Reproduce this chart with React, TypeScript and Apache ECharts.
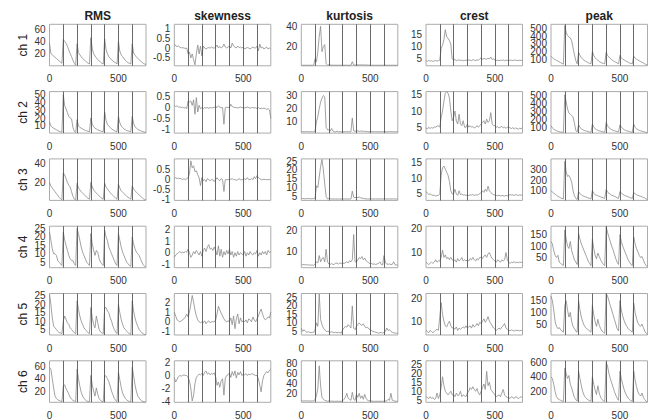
import React, { useEffect, useRef } from "react";
import * as echarts from "echarts";

const columnTitles = ["RMS", "skewness", "kurtosis", "crest", "peak"];
const channelLabels = ["ch 1", "ch 2", "ch 3", "ch 4", "ch 5", "ch 6"];
const segmentBounds = [100, 200, 300, 400, 500, 600];
const xTicks = [0, 500];
const xRange = [0, 700];

const sampleX = [
  0, 10, 20, 30, 40, 50, 60, 70, 80, 90,
  100, 110, 120, 130, 140, 150, 160, 170, 180, 190,
  200, 210, 220, 230, 240, 250, 260, 270, 280, 290,
  300, 310, 320, 330, 340, 350, 360, 370, 380, 390,
  400, 410, 420, 430, 440, 450, 460, 470, 480, 490,
  500, 510, 520, 530, 540, 550, 560, 570, 580, 590,
  600, 610, 620, 630, 640, 650, 660, 670, 680, 690,
  700,
];

// ---- RMS ----
const rmsCh1 = [
  37, 20, 18, 16, 14, 12, 10, 8, 6, 4,
  43, 40, 37, 32, 26, 20, 15, 9, 4, 1,
  36, 22, 18, 15, 12, 10, 8, 6, 4, 3,
  46, 28, 20, 16, 13, 10, 8, 6, 4, 3,
  44, 27, 20, 15, 12, 10, 8, 6, 5, 3,
  40, 24, 18, 15, 12, 9, 7, 5, 4, 3,
  36, 21, 17, 15, 12, 10, 8, 6, 4, 3,
  2,
];
const rmsCh2 = [
  15, 10, 8, 7, 6, 5, 4, 3, 2.5, 2,
  50, 36, 32, 27, 22, 20, 19, 8, 3, 1.5,
  18, 10, 8, 7, 6, 5, 4, 3.5, 3, 2.5,
  20, 12, 9, 7, 6, 5, 4, 3.5, 3, 2.5,
  28, 17, 12, 10, 8, 6, 5, 4, 3, 2.5,
  22, 14, 10, 8, 6, 5, 4, 3.5, 3, 2.5,
  22, 13, 9, 7, 5.5, 4.5, 4, 3, 2.5, 2,
  1.5,
];
const rmsCh3 = [
  20, 16, 14, 12, 10, 8, 6, 4, 2.5, 1.5,
  30, 28, 24, 20, 17, 15, 10, 5, 2, 1,
  19, 14, 12, 10, 8.5, 7, 5.5, 4, 3, 2,
  20, 15, 12, 10, 8.5, 7, 5.5, 4, 3, 2,
  19, 15, 13, 11, 9, 7.5, 6, 4.5, 3, 2,
  18, 14, 11, 9.5, 8, 6.5, 5, 4, 3, 2,
  16, 13, 11, 9.5, 8, 6.5, 5, 4, 2.5, 1.5,
  1,
];
const rmsCh4 = [
  23, 18, 13, 10, 10, 9, 6, 5, 4, 3,
  23, 18, 15, 12, 9, 7, 6, 6, 4, 3,
  25, 22, 18, 14, 11, 9, 7, 5, 4, 3,
  22, 16, 12, 9, 12, 11, 7, 5, 4, 3,
  24, 20, 18, 14, 12, 10, 8, 6, 4, 3,
  22, 18, 14, 11, 9, 7, 5, 4, 3, 2.5,
  20, 16, 13, 11, 10, 9, 7, 5, 3.5, 2.5,
  2,
];
const rmsCh5 = [
  26, 20, 12, 7, 6, 5, 4, 3, 3, 2.5,
  10, 13, 11, 9, 8, 6, 5, 4, 3, 2.5,
  22, 17, 13, 10, 8, 6, 5, 4, 3, 2.5,
  18, 12, 8, 6, 13, 9, 5, 3.5, 3, 2.5,
  18, 18, 16, 15, 12, 10, 7, 5, 3.5, 2.5,
  20, 15, 11, 8, 6, 5, 4, 3, 2.5, 2,
  22, 16, 12, 9, 7, 5, 4, 3, 2.5, 2,
  2,
];
const rmsCh6 = [
  58, 55, 40, 25, 12, 8, 6, 5, 4, 3,
  28, 30, 24, 20, 15, 10, 7, 5, 4, 3,
  55, 40, 28, 18, 12, 8, 6, 4, 3.5, 3,
  45, 30, 20, 12, 25, 15, 8, 5, 3.5, 3,
  45, 44, 40, 35, 28, 20, 14, 8, 5, 3,
  50, 38, 26, 17, 12, 8, 6, 4, 3.5, 3,
  58, 45, 30, 20, 12, 9, 6, 4, 3, 2.5,
  2.5,
];

// ---- skewness ----
const skewCh1 = [
  0.2, 0.1, 0.08, 0.1, 0.05, 0, 0.02, 0, -0.02, 0,
  -0.3, -0.2, -0.5, -0.3, -0.6, -0.85, -0.3, 0.15, -0.3, 0.1,
  -0.4, 0.1, 0, -0.05, 0, 0.02, 0, 0.05, 0, 0,
  0.05, 0.15, 0, 0.08, 0, 0.05, 0.2, 0.05, 0, 0.05,
  0.1, 0, 0.25, 0.1, 0.05, 0, 0.1, 0.02, 0.05, 0,
  0.05, -0.05, 0, 0.02, 0, -0.05, 0, 0.05, 0, 0,
  0.1, -0.15, 0.2, 0, 0.05, -0.05, 0, 0.05, -0.05, 0,
  -0.05,
];
const skewCh2 = [
  0.1, 0.05, 0.08, 0.02, 0.03, 0, 0.02, -0.02, 0, -0.05,
  0.3, 0.25, 0.3, 0.1, 0.35, -0.3, 0.45, -0.2, 0.1, -0.05,
  0, -0.05, 0, -0.02, 0, -0.03, 0, -0.02, 0, 0,
  0.05, 0, 0.08, 0.02, 0, 0, -0.75, 0, 0.02, 0,
  0, 0.15, 0.05, 0.02, 0, 0, -0.02, 0, 0.02, 0,
  0, -0.02, 0, 0.02, 0, -0.03, 0, 0, -0.02, 0,
  -0.05, 0, -0.05, -0.03, -0.05, -0.02, -0.05, -0.08, -0.05, -0.1,
  -0.5,
];
const skewCh3 = [
  0.05, 0.1, 0.05, 0.08, 0.05, 0.05, 0, 0.05, 0, 0.05,
  0.1, 0.3, 0.95, 0.6, 0.7, 0.4, 0.45, 0.25, 0.1, -0.3,
  0.1, -0.05, 0, -0.1, 0.05, 0, -0.05, 0, 0, -0.1,
  0, 0.1, 0, -0.05, 0.05, 0, -0.6, 0, 0, 0,
  0, 0.02, 0.05, 0, 0, -0.03, 0, 0.05, 0, 0,
  0, 0.05, 0, 0.1, 0, 0, 0.05, 0, 0.15, 0.05,
  0.2, 0.1, 0.05, 0, 0, 0.02, 0, 0, 0, 0,
  0,
];
const skewCh4 = [
  -0.4, -0.2, -0.1, 0, 0.1, 0, 0.05, 0, 0.1, 0.05,
  0.3, 0, -0.4, -0.2, 0.1, -0.1, 0.2, 0, -0.2, 0.1,
  -0.3, 0.2, 0.4, 0.1, 0.5, 0.7, 0.3, 0.4, 0.2, 0.5,
  0.2, -0.2, 0.6, -0.3, 0.3, -0.4, 0.1, -0.2, 0.2, -0.1,
  0.3, -0.2, 0.1, -0.4, 0, -0.3, 0.1, -0.2, 0, -0.1,
  -0.2, 0.1, -0.3, 0, -0.2, 0.1, -0.1, -0.2, 0, -0.1,
  0.2, -0.3, 0, -0.2, 0.1, -0.1, 0.1, -0.2, 0.2, 0,
  0.1,
];
const skewCh5 = [
  1.0, 0.6, 0.2, 0.1, 0, 0.1, 0.2, 0.3, 0.5, 0.8,
  0.5, 1.0, 1.8, 2.7, 2.0, 1.2, 0.6, 0.2, 0, -0.1,
  0, -0.1, 0.1, -0.2, 0, 0.1, -0.1, 0, 0, 0,
  0.2, 0.8, 1.6, 1.2, 0.9, 0.6, 0.3, 0.1, 0, 0.1,
  0, 0.4, -0.3, 0.6, -0.7, 0.3, 0.8, -0.2, 0.4, 0,
  0.1, 0, 0.2, -0.1, 0.3, 0.2, 0, 0.5, 0.2, 0,
  0.3, 0.6, 1.0, 1.3, 0.8, 0.4, 0.2, 0.3, 0.5, 0.4,
  1.0,
];
const skewCh6 = [
  -0.3, -1.0, -0.6, -0.2, 0, -0.1, 0, 0.1, 0, 0,
  -0.3, -0.8, -2.0, -3.9, -3.0, -1.2, -0.3, 0, 0.2, 0.1,
  0.3, 0, 0.5, 0.7, 0.2, 0.4, 0.1, 0.3, 0.2, 0.4,
  -0.2, -1.5, -1.0, -1.8, -0.8, -0.5, -3.0, -0.4, 0, 0.1,
  0.4, -0.3, 0.6, 0, 0.7, -0.4, 0.5, 0.1, 0.6, 0,
  0.2, 0.1, 0.3, 0, 0.2, 0.1, 0.3, 0.2, 0.1, 0,
  0, -0.5, -1.5, -2.5, -0.8, 0, 0.3, 0.6, 0.4, 0.8,
  1.0,
];

// ---- kurtosis ----
const kurtCh1 = [
  1.6, 1.5, 1.5, 1.6, 1.5, 1.5, 1.6, 1.5, 1.5, 1.6,
  8, 5, 15, 30, 40, 15, 20, 22, 3, 1.8,
  2.0, 1.8, 1.6, 1.6, 1.5, 1.6, 1.5, 1.5, 1.6, 1.5,
  1.5, 1.6, 1.5, 1.6, 1.5, 1.5, 1.6, 5.0, 1.8, 1.6,
  1.7, 2.0, 1.8, 1.9, 1.7, 2.0, 1.8, 1.7, 1.8, 1.6,
  1.6, 1.5, 1.6, 1.5, 1.5, 1.6, 1.5, 1.5, 1.6, 1.5,
  1.5, 1.6, 1.5, 1.5, 1.6, 1.5, 1.5, 1.6, 1.5, 1.5,
  1.5,
];
const kurtCh2 = [
  2.5, 2.6, 2.5, 2.5, 2.6, 2.5, 2.5, 2.6, 2.5, 2.5,
  3, 10, 14, 20, 25, 28, 30, 29, 6, 4,
  4, 3, 5, 3, 2.5, 2.5, 3, 2.5, 2.5, 2.5,
  2.5, 2.5, 2.5, 2.6, 2.5, 2.5, 2.6, 13, 3.2, 3.0,
  3.0, 3.2, 2.8, 3.0, 3.1, 2.8, 2.9, 2.7, 2.6, 2.5,
  2.5, 2.6, 2.5, 2.5, 2.6, 2.5, 2.5, 2.6, 2.5, 2.5,
  2.5, 2.6, 2.5, 2.5, 2.6, 2.5, 2.5, 2.6, 2.5, 2.5,
  2.5,
];
const kurtCh3 = [
  3.7, 3.8, 3.7, 3.6, 3.7, 3.8, 3.7, 3.6, 3.7, 3.7,
  4, 11, 10, 16, 22, 26, 20, 12, 5, 3.5,
  3.8, 3.6, 3.5, 3.5, 3.5, 3.5, 3.5, 3.5, 3.5, 3.5,
  3.5, 3.5, 3.5, 3.5, 3.5, 3.5, 3.5, 8, 4.5, 4.2,
  4.5, 4.3, 4.6, 4.2, 4.0, 3.8, 3.7, 3.6, 3.5, 3.5,
  3.5, 3.6, 3.5, 3.5, 3.6, 3.5, 3.5, 3.6, 3.5, 3.5,
  3.5, 3.6, 3.5, 3.5, 3.6, 3.5, 3.5, 3.6, 3.5, 3.5,
  3.5,
];
const kurtCh4 = [
  4, 3.5, 3.8, 3.5, 3.6, 3.5, 3.5, 3.4, 3.5, 3.3,
  4, 5, 4.5, 8, 5, 6.5, 7, 5, 11, 5,
  4, 3.8, 4.2, 3.7, 3.8, 4.5, 4.2, 4, 4.5, 4.2,
  4.5, 4.2, 4.6, 5, 4.5, 5.5, 5, 6, 18, 5,
  5, 6, 7, 6.5, 7.5, 6, 6.8, 5.5, 5, 4.5,
  4, 4.2, 3.8, 4, 3.7, 4, 4.2, 5, 3.8, 3.5,
  8, 4.5, 4, 3.8, 4, 3.7, 3.8, 5, 3.6, 3.5,
  3.5,
];
const kurtCh5 = [
  7, 5, 6, 5, 4.5, 4.8, 4.5, 4.3, 4.5, 4.4,
  6, 10, 8, 27, 12, 9, 7, 6, 5, 5,
  5, 4.5, 4.8, 4.5, 4.3, 4.5, 4.2, 4.5, 4.3, 4.0,
  6, 7, 8, 7.5, 9, 8, 7, 20, 7, 6,
  8, 9, 10, 9, 8.5, 9.5, 8, 7, 7.5, 6.5,
  6, 5.5, 5, 4.8, 4.5, 4.3, 4.0, 4.2, 4.5, 4.0,
  4.5, 5, 7, 5.5, 6, 5, 4.5, 4.2, 4.0, 4.0,
  4.0,
];
const kurtCh6 = [
  5, 4.5, 5, 4.8, 4.5, 5, 4.6, 4.5, 4.8, 4.5,
  8, 15, 30, 75, 35, 12, 8, 6, 5, 4,
  5, 4, 4.5, 4, 4, 4, 4.2, 4, 4, 4,
  5, 8, 12, 20, 10, 8, 6, 22, 8, 6,
  18, 12, 20, 10, 15, 8, 18, 10, 6, 5,
  5, 4.5, 4, 4, 4, 4, 4, 4.2, 4, 4,
  4, 4.5, 5, 8, 6, 20, 6, 5, 4.5, 4,
  4,
];

// ---- crest ----
const crestCh1 = [
  4.3, 4.0, 4.4, 4.1, 4.3, 4.0, 4.2, 4.4, 4.1, 4.3,
  4.5, 9.5, 10.5, 13, 17, 14, 13.5, 12.5, 11, 5,
  4.5, 4.8, 4.3, 4.5, 4.6, 4.4, 4.5, 4.3, 4.4, 4.5,
  4.4, 4.6, 4.5, 4.3, 4.7, 4.5, 4.4, 4.6, 4.5, 5.0,
  5.5, 4.8, 5.2, 5.0, 4.9, 5.3, 5.0, 5.8, 4.8, 5.0,
  4.6, 4.4, 4.5, 4.3, 4.5, 4.4, 4.6, 4.3, 4.5, 4.4,
  4.6, 4.4, 4.5, 4.3, 4.6, 4.5, 4.4, 4.3, 4.5, 4.4,
  4.5,
];
const crestCh2 = [
  4.8, 4.5, 5.0, 4.6, 4.9, 4.7, 5.1, 5.0, 5.3, 5.5,
  5, 8, 10, 13, 15.5, 16, 15.5, 14, 10, 7,
  8, 10, 7, 6, 9, 6, 5.5, 7, 5, 5,
  6, 5, 5.5, 5, 5.2, 4.8, 5, 5.5, 5, 5.5,
  6, 6.5, 7, 6, 7.5, 6.5, 7, 9.5, 6, 5.5,
  5.5, 5, 5.2, 4.8, 5, 5.3, 4.8, 5, 4.7, 5,
  5, 4.8, 4.6, 4.9, 4.5, 4.8, 4.6, 4.4, 4.7, 4.5,
  5,
];
const crestCh3 = [
  5.8, 5.2, 4.8, 5.0, 4.7, 4.5, 4.6, 4.3, 4.5, 4.5,
  5, 11, 13.5, 14, 13, 12, 11, 9, 6, 5,
  5, 6.5, 5, 4.5, 6, 4.8, 5, 4.6, 4.7, 4.5,
  4.6, 4.5, 4.7, 4.6, 4.8, 4.5, 4.7, 4.6, 4.8, 5.0,
  5.5, 6, 5.5, 6.5, 5.8, 7.5, 6, 5.5, 5, 4.8,
  4.6, 4.5, 4.4, 4.6, 4.3, 4.5, 4.4, 4.3, 4.5, 4.4,
  4.5, 4.8, 4.6, 4.7, 4.5, 4.8, 4.6, 4.5, 4.7, 4.6,
  4.5,
];
const crestCh4 = [
  6, 5.5, 5, 5.5, 6, 5.5, 6, 7, 6, 6.5,
  6.5, 8, 11, 8, 9, 7.5, 8, 7, 8, 7,
  6.5, 7, 6, 7.5, 6.5, 7, 8, 6.5, 7, 6.5,
  7, 6.5, 7.5, 7, 8, 7, 6.5, 7.5, 7, 8,
  8, 7.5, 8.5, 9, 8, 9.5, 10, 8.5, 7.5, 7,
  6.5, 6, 7, 6.5, 6, 7, 6.5, 7, 10, 7,
  6, 5.5, 6, 5.8, 6.2, 5.7, 6, 5.8, 6, 5.9,
  6,
];
const crestCh5 = [
  6, 5.5, 5, 6, 5.5, 5, 5.5, 6, 6.5, 6,
  12, 18, 13, 10, 8, 7.5, 9, 10, 8, 7,
  7, 6.5, 7.5, 6, 7, 6.5, 7, 7.5, 7, 8,
  7, 7.5, 8, 7, 8.5, 7.5, 8, 9, 8, 9.5,
  9, 10, 11, 9.5, 10.5, 12, 10, 9, 8, 7,
  6.5, 6, 6.5, 7, 6.5, 7.5, 8, 9, 7, 6.5,
  6, 5.8, 6.2, 6, 5.7, 6.1, 5.9, 6, 5.8, 6,
  6,
];
const crestCh6 = [
  7, 6.5, 6, 7, 6, 6.5, 5.5, 6, 9, 6,
  8, 12, 18, 13, 10, 9, 8, 9, 10, 8,
  8, 7, 9, 7.5, 8, 10, 7, 8, 7.5, 7,
  9, 10, 12, 11, 12.5, 11, 10, 11.5, 9, 8,
  10, 12, 14, 11, 21, 13, 15, 11, 10, 9,
  8, 7, 7.5, 8, 7, 9, 11, 8, 7, 6.5,
  6.5, 6, 7, 6.5, 6, 7, 6.5, 6, 6.5, 7,
  6.5,
];

// ---- peak ----
const peakCh1 = [
  140, 120, 105, 95, 85, 75, 65, 55, 45, 35,
  540, 450, 410, 390, 380, 340, 250, 160, 80, 40,
  190, 150, 120, 100, 85, 75, 65, 55, 45, 40,
  200, 150, 120, 100, 85, 70, 60, 50, 45, 40,
  190, 150, 130, 110, 95, 80, 70, 60, 50, 40,
  150, 120, 100, 90, 80, 70, 60, 50, 45, 40,
  140, 115, 100, 90, 80, 70, 60, 50, 40, 30,
  25,
];
const peakCh2 = [
  120, 90, 75, 65, 55, 50, 45, 40, 38, 35,
  510, 420, 330, 280, 260, 250, 230, 150, 60, 40,
  130, 100, 80, 70, 60, 55, 50, 45, 40, 35,
  140, 100, 85, 70, 60, 55, 50, 45, 40, 35,
  160, 120, 95, 80, 70, 60, 55, 50, 45, 40,
  130, 100, 85, 70, 60, 55, 50, 45, 40, 35,
  140, 100, 80, 70, 60, 55, 50, 45, 40, 35,
  30,
];
const peakCh3 = [
  100, 85, 75, 65, 55, 45, 38, 30, 25, 20,
  380, 280, 235, 245, 220, 180, 100, 50, 25, 15,
  90, 70, 60, 50, 45, 40, 35, 30, 25, 20,
  100, 75, 60, 55, 50, 45, 40, 35, 30, 25,
  110, 85, 75, 65, 55, 50, 45, 40, 30, 25,
  90, 75, 65, 55, 50, 45, 40, 35, 30, 25,
  80, 70, 60, 55, 50, 45, 40, 35, 30, 20,
  10,
];
const peakCh4 = [
  120, 110, 80, 60, 50, 60, 30, 25, 20, 15,
  170, 130, 100, 90, 120, 80, 60, 40, 30, 20,
  155, 130, 110, 95, 80, 65, 50, 35, 25, 15,
  130, 90, 60, 45, 70, 55, 40, 30, 20, 15,
  185, 160, 140, 120, 100, 85, 65, 45, 30, 20,
  150, 120, 100, 85, 70, 55, 40, 30, 20, 15,
  140, 110, 90, 75, 60, 50, 55, 40, 25, 15,
  10,
];
const peakCh5 = [
  170, 150, 110, 60, 40, 30, 35, 25, 20, 15,
  130, 150, 110, 80, 100, 60, 40, 30, 20, 15,
  150, 110, 80, 60, 45, 35, 30, 25, 20, 15,
  130, 90, 60, 40, 70, 45, 30, 20, 15, 10,
  180, 170, 150, 130, 110, 90, 70, 50, 30, 20,
  150, 110, 85, 65, 50, 40, 30, 25, 20, 15,
  140, 100, 75, 55, 45, 40, 50, 35, 20, 10,
  5,
];
const peakCh6 = [
  400, 380, 300, 200, 130, 100, 90, 80, 70, 65,
  520, 450, 380, 420, 300, 250, 180, 120, 90, 70,
  480, 380, 280, 200, 150, 120, 100, 85, 75, 65,
  400, 300, 220, 160, 280, 180, 120, 90, 75, 65,
  600, 550, 450, 380, 320, 260, 200, 150, 110, 80,
  480, 380, 300, 230, 180, 140, 110, 90, 75, 65,
  480, 360, 270, 200, 160, 140, 180, 120, 90, 65,
  60,
];

// y-axis limits [min, max] per channel row, per feature column
const yLimitsCh1 = [[0, 68], [-0.9, 1.2], [1, 42], [2.2, 19.2], [14, 556]];
const yLimitsCh2 = [[0.7, 54], [-1.15, 0.72], [1.5, 33], [3.2, 16], [26, 550]];
const yLimitsCh3 = [[0.7, 45], [-1.05, 1.05], [2.7, 26.3], [2.9, 16.3], [6, 403]];
const yLimitsCh4 = [[1.7, 26.4], [-1.3, 2.3], [2.2, 22], [3.7, 21], [6, 187]];
const yLimitsCh5 = [[1.7, 26.4], [-1.35, 2.9], [2.9, 27.3], [4, 22], [3, 181]];
const yLimitsCh6 = [[2, 68.5], [-4.1, 2.25], [2, 85], [3.9, 26.8], [53, 622]];

// y tick labels per channel row, per feature column
const yTicksCh1 = [[20, 40, 60], [-0.5, 0, 0.5, 1], [20, 40], [5, 10, 15], [100, 200, 300, 400, 500]];
const yTicksCh2 = [[10, 20, 30, 40, 50], [-1, -0.5, 0, 0.5], [10, 20, 30], [5, 10, 15], [100, 200, 300, 400, 500]];
const yTicksCh3 = [[20, 40], [-1, -0.5, 0, 0.5], [5, 10, 15, 20, 25], [5, 10, 15], [100, 200, 300]];
const yTicksCh4 = [[5, 10, 15, 20, 25], [-1, 0, 1, 2], [10, 20], [10, 20], [50, 100, 150]];
const yTicksCh5 = [[5, 10, 15, 20, 25], [-1, 0, 1, 2], [5, 10, 15, 20, 25], [10, 20], [50, 100, 150]];
const yTicksCh6 = [[20, 40, 60], [-4, -2, 0, 2], [20, 40, 60, 80], [5, 10, 15, 20, 25], [200, 400, 600]];

const traces = [
  [rmsCh1, skewCh1, kurtCh1, crestCh1, peakCh1],
  [rmsCh2, skewCh2, kurtCh2, crestCh2, peakCh2],
  [rmsCh3, skewCh3, kurtCh3, crestCh3, peakCh3],
  [rmsCh4, skewCh4, kurtCh4, crestCh4, peakCh4],
  [rmsCh5, skewCh5, kurtCh5, crestCh5, peakCh5],
  [rmsCh6, skewCh6, kurtCh6, crestCh6, peakCh6],
];
const yLimits = [yLimitsCh1, yLimitsCh2, yLimitsCh3, yLimitsCh4, yLimitsCh5, yLimitsCh6];
const yTicks = [yTicksCh1, yTicksCh2, yTicksCh3, yTicksCh4, yTicksCh5, yTicksCh6];

// layout (pixels)
const colLefts = [49.5, 174.3, 301.3, 426, 551];
const rowTop0 = 24.3;
const rowStep = 67.3;
const boxW = 96.5;
const boxH = 41.5;

const FONT = "'Liberation Sans', Arial, Helvetica, sans-serif";

export default function App() {
  const ref = useRef<HTMLDivElement>(null);

  useEffect(() => {
    document.body.style.margin = "0";
    if (!ref.current) return;
    const chart = echarts.init(ref.current, null, { renderer: "svg" });

    const grids: any[] = [];
    const xAxes: any[] = [];
    const yAxes: any[] = [];
    const series: any[] = [];

    for (let r = 0; r < 6; r++) {
      for (let c = 0; c < 5; c++) {
        const gi = grids.length;
        grids.push({
          left: colLefts[c],
          top: rowTop0 + r * rowStep,
          width: boxW,
          height: boxH,
          show: true,
          borderColor: "#ababab",
          borderWidth: 1,
          backgroundColor: "#ffffff",
          containLabel: false,
          outerBoundsMode: "none",
        });
        xAxes.push({
          type: "value",
          gridIndex: gi,
          min: xRange[0],
          max: xRange[1],
          axisLine: { show: false },
          axisTick: { show: false },
          splitLine: { show: false },
          axisLabel: {
            customValues: xTicks,
            showMinLabel: true,
            showMaxLabel: true,
            hideOverlap: false,
            fontSize: 10,
            color: "#333",
            margin: 8,
            fontFamily: FONT,
          },
        });
        const lim = yLimits[r][c];
        const ticks = yTicks[r][c];
        // one y axis per tick label (all on the same scale) so that the
        // tightly packed labels are all kept, as in the reference
        const firstY = yAxes.length;
        ticks.forEach((t, k) => {
          yAxes.push({
            type: "value",
            gridIndex: gi,
            position: "left",
            offset: 0,
            min: lim[0],
            max: lim[1],
            axisLine: { show: false },
            axisTick: { show: false },
            splitLine: { show: false },
            axisLabel: {
              customValues: [t],
              showMinLabel: true,
              showMaxLabel: true,
              hideOverlap: false,
              fontSize: 10,
              color: "#333",
              margin: 4,
              fontFamily: FONT,
            },
            name: c === 0 && k === 0 ? channelLabels[r] : "",
            nameLocation: "middle",
            nameRotate: 90,
            nameGap: 21,
            nameTextStyle: { fontSize: 12, color: "#222", fontFamily: FONT },
          });
        });
        const vals = traces[r][c];
        series.push({
          type: "line",
          xAxisIndex: gi,
          yAxisIndex: firstY,
          data: sampleX.map((x, i) => [x, vals[i]]),
          symbol: "none",
          showSymbol: false,
          clip: true,
          lineStyle: { color: "#8a8a8a", width: 0.8 },
          silent: true,
          markLine: {
            silent: true,
            symbol: "none",
            label: { show: false },
            lineStyle: { color: "#444", width: 0.8, type: "solid" },
            emphasis: { disabled: true },
            data: segmentBounds.map((v) => ({ xAxis: v })),
          },
        });
      }
    }

    const graphics = columnTitles.map((t, c) => ({
      type: "text",
      x: colLefts[c] + boxW / 2,
      y: 16,
      style: {
        text: t,
        fill: "#222",
        font: `bold 12px ${FONT}`,
        textAlign: "center",
        textVerticalAlign: "middle",
        align: "center",
        verticalAlign: "middle",
      },
    }));

    chart.setOption({
      animation: false,
      backgroundColor: "#ffffff",
      grid: grids,
      xAxis: xAxes,
      yAxis: yAxes,
      series,
      graphic: graphics,
    });

    return () => chart.dispose();
  }, []);

  return <div ref={ref} style={{ width: 652, height: 420 }} />;
}
